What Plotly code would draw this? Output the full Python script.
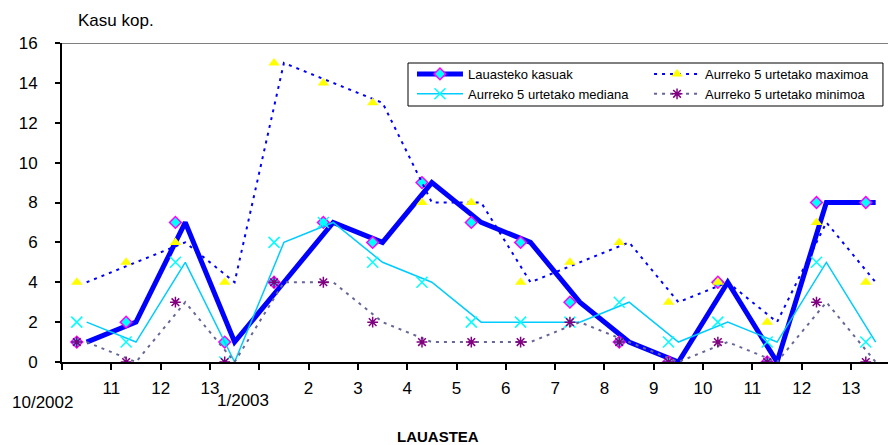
import plotly.graph_objects as go

# Week labels (tick under the left edge of each week)
weeks = ["10/2002", "11", "12", "13", "1/2003", "2", "3", "4", "5", "6",
         "7", "8", "9", "10", "11", "12", "13"]

kasuak = [1, 2, 7, 1, 4, 7, 6, 9, 7, 6, 3, 1, 0, 4, 0, 8, 8]
mediana = [2, 1, 5, 0, 6, 7, 5, 4, 2, 2, 2, 3, 1, 2, 1, 5, 1]
maximoa = [4, 5, 6, 4, 15, 14, 13, 8, 8, 4, 5, 6, 3, 4, 2, 7, 4]
minimoa = [1, 0, 3, 0, 4, 4, 2, 1, 1, 1, 2, 1, 0, 1, 0, 3, 0]

names = ["Lauasteko kasuak", "Aurreko 5 urtetako mediana",
         "Aurreko 5 urtetako maximoa", "Aurreko 5 urtetako minimoa"]

FONT = "Liberation Sans, Arial, sans-serif"
n = len(weeks)
xc = list(range(n))                 # line vertices at week centres
MARK_SHIFT = 0.2                    # markers sit slightly left of the vertices
xm = [i - MARK_SHIFT for i in xc]

styles = [
    dict(line=dict(color="#0000FF", width=5),
         marker=dict(symbol="diamond", size=9, color="#00FFFF",
                     line=dict(color="#FF00FF", width=1.5))),
    dict(line=dict(color="#00CCFF", width=1.5),
         marker=dict(symbol="x-thin-open", size=11, color="#00FFFF",
                     line=dict(color="#00FFFF", width=1.5))),
    dict(line=dict(color="#0000FF", width=2, dash="3px,5px"),
         marker=dict(symbol="triangle-up", size=10, color="#FFFF00",
                     line=dict(width=0))),
    dict(line=dict(color="#666699", width=2, dash="3px,5px"),
         marker=dict(symbol="asterisk-open", size=9, color="#800080",
                     line=dict(color="#800080", width=1.5))),
]
series = [kasuak, mediana, maximoa, minimoa]
legend_col = ["legend", "legend", "legend2", "legend2"]

fig = go.Figure()
for name, vals, st, lg in zip(names, series, styles, legend_col):
    fig.add_trace(go.Scatter(x=xc, y=vals, mode="lines", line=st["line"],
                             showlegend=False, hoverinfo="skip"))
    fig.add_trace(go.Scatter(x=xm, y=vals, mode="markers", marker=st["marker"],
                             name=name, showlegend=False))
    # legend key combining line and marker
    fig.add_trace(go.Scatter(x=[None], y=[None], mode="lines+markers",
                             line=st["line"], marker=st["marker"], name=name,
                             legend=lg, showlegend=True))

tickvals = [i - 0.5 for i in range(n)]
ticktext = ["" if w in ("10/2002", "1/2003") else w for w in weeks]

legend_common = dict(orientation="v", yanchor="top", xanchor="left", y=0.950,
                     borderwidth=0, bgcolor="rgba(0,0,0,0)",
                     font=dict(size=13), itemwidth=46, itemclick=False,
                     traceorder="normal")

fig.update_layout(
    width=888, height=445,
    margin=dict(l=62, r=0, t=43, b=83),
    paper_bgcolor="white", plot_bgcolor="white",
    font=dict(family=FONT, size=17, color="black"),
    showlegend=True,
    legend=dict(x=0.4237, **legend_common),
    legend2=dict(x=0.7107, **legend_common),
    xaxis=dict(range=[-0.5, n - 0.75], tickvals=tickvals, ticktext=ticktext,
               showgrid=False, zeroline=False, showline=True, linecolor="black",
               linewidth=2, ticks="outside", ticklen=6, tickwidth=1.5,
               tickcolor="black", ticklabelstandoff=4),
    yaxis=dict(range=[0, 16], dtick=2, showgrid=False, zeroline=False,
               showline=True, linecolor="black", linewidth=2, ticks="outside",
               ticklen=5, tickwidth=1.5, tickcolor="black",
               ticklabelstandoff=14),
    shapes=[
        dict(type="line", xref="paper", yref="y", x0=0, x1=1, y0=16, y1=16,
             line=dict(color="#808080", width=2)),
        # legend frame
        dict(type="rect", xref="paper", yref="paper", x0=0.4189, x1=0.9939,
             y0=0.8025, y1=0.9373, layer="above", fillcolor="white",
             line=dict(color="black", width=1)),
    ],
    annotations=[
        dict(text="Kasu kop.", xref="paper", yref="paper", x=0.017, y=1.072,
             xanchor="left", yanchor="middle", showarrow=False,
             font=dict(size=17)),
        dict(text="<b>LAUASTEA</b>", xref="paper", yref="paper", x=0.455,
             y=-0.235, xanchor="center", yanchor="middle", showarrow=False,
             font=dict(size=15)),
        dict(text="10/2002", xref="paper", yref="paper", x=-0.024, y=-0.128,
             xanchor="center", yanchor="middle", showarrow=False),
        dict(text="1/2003", xref="paper", yref="paper", x=0.219, y=-0.122,
             xanchor="center", yanchor="middle", showarrow=False),
    ],
)

fig.write_html("out.html")
